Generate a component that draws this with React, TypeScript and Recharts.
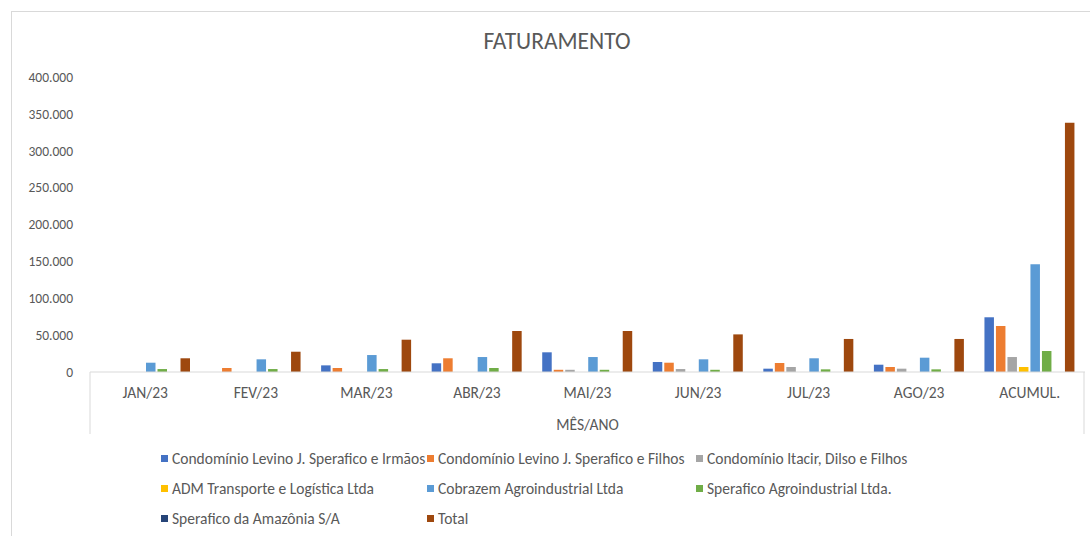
import { Bar, BarChart, Legend, XAxis, YAxis } from "recharts";

const categories = ["JAN/23", "FEV/23", "MAR/23", "ABR/23", "MAI/23", "JUN/23", "JUL/23", "AGO/23", "ACUMUL."];

const irmaos = [0, 0, 9000, 11800, 26700, 13600, 4500, 9900, 74200];
const filhos = [0, 5400, 5400, 18600, 3000, 12600, 12200, 6800, 62400];
const itacir = [0, 0, 0, 0, 3000, 4000, 6800, 4500, 20300];
const adm = [0, 0, 0, 0, 0, 0, 0, 0, 6800];
const cobrazem = [12600, 17200, 23000, 20300, 20300, 17200, 18600, 19400, 146000];
const agro = [4000, 4000, 4000, 5400, 3000, 3000, 3600, 3600, 28500];
const amazonia = [0, 0, 0, 0, 0, 0, 0, 0, 0];
const total = [18600, 27500, 43800, 55600, 55600, 51000, 44800, 44800, 338000];

const yTicks = [0, 50000, 100000, 150000, 200000, 250000, 300000, 350000, 400000];

const series = [
  { key: "irmaos", name: "Condomínio Levino J. Sperafico e Irmãos", color: "#4472C4", values: irmaos },
  { key: "filhos", name: "Condomínio Levino J. Sperafico e Filhos", color: "#ED7D31", values: filhos },
  { key: "itacir", name: "Condomínio Itacir, Dilso e Filhos", color: "#A5A5A5", values: itacir },
  { key: "adm", name: "ADM Transporte e Logística Ltda", color: "#FFC000", values: adm },
  { key: "cobrazem", name: "Cobrazem Agroindustrial Ltda", color: "#5B9BD5", values: cobrazem },
  { key: "agro", name: "Sperafico Agroindustrial Ltda.", color: "#70AD47", values: agro },
  { key: "amazonia", name: "Sperafico da Amazônia S/A", color: "#264478", values: amazonia },
  { key: "total", name: "Total", color: "#9E480E", values: total },
];

const data = categories.map((name, i) => {
  const row: Record<string, string | number> = { name };
  series.forEach((s) => (row[s.key] = s.values[i]));
  return row;
});

const FONT = "Calibri, Carlito, Lato, sans-serif";
const TEXT = "#595959";
const AXIS = "#D9D9D9";
const PLOT_LEFT = 90;
const PLOT_RIGHT = 1085;
const BAND = (PLOT_RIGHT - PLOT_LEFT) / categories.length;

const fmt = (v: number) => (v === 0 ? "0" : v.toLocaleString("pt-BR"));

function CategoryTick(props: any) {
  const { x, y, payload, index } = props;
  return (
    <g>
      {index === 0 && <line x1={x - BAND / 2} x2={x - BAND / 2} y1={y - 8} y2={y + 54} stroke={AXIS} />}
      {index === categories.length - 1 && (
        <line x1={x + BAND / 2 - 1} x2={x + BAND / 2 - 1} y1={y - 8} y2={y + 54} stroke={AXIS} />
      )}
      <text x={x} y={y + 18} textAnchor="middle" fill={TEXT} fontSize={15.5} fontFamily={FONT}>
        {payload.value}
      </text>
    </g>
  );
}

function LegendGrid() {
  const cols = [266, 269, 260];
  return (
    <div style={{ display: "grid", gridTemplateColumns: cols.map((c) => c + "px").join(" "), rowGap: 12 }}>
      {series.map((s) => (
        <div key={s.key} style={{ display: "flex", alignItems: "center", height: 18, whiteSpace: "nowrap" }}>
          <span style={{ width: 7, height: 7, background: s.color, marginRight: 4, display: "inline-block" }} />
          <span style={{ fontSize: 15.5, color: TEXT, fontFamily: FONT }}>{s.name}</span>
        </div>
      ))}
    </div>
  );
}

export default function App() {
  return (
    <div style={{ position: "fixed", left: 0, top: 0, width: 1090, height: 536, background: "#fff", overflow: "hidden" }}>
      <div
        style={{
          position: "absolute",
          left: 11,
          top: 11,
          width: 1200,
          height: 700,
          borderTop: `1px solid ${AXIS}`,
          borderLeft: `1px solid ${AXIS}`,
        }}
      />
      <div
        style={{
          position: "absolute",
          left: 0,
          width: 1114,
          top: 27,
          textAlign: "center",
          fontSize: 23.5,
          color: TEXT,
          fontFamily: FONT,
        }}
      >
        FATURAMENTO
      </div>
      <div style={{ position: "absolute", left: 0, top: 0 }}>
        <BarChart
          width={1090}
          height={536}
          data={data}
          margin={{ top: 77, right: 1090 - PLOT_RIGHT, left: 0, bottom: 102 }}
          barCategoryGap="8%"
          barGap={2}
          barSize={9.5}
        >
          <XAxis
            dataKey="name"
            height={62}
            axisLine={{ stroke: AXIS }}
            tickLine={false}
            tick={<CategoryTick />}
            interval={0}
            label={{ value: "MÊS/ANO", position: "insideBottom", offset: 4, fill: TEXT, fontSize: 15.5, fontFamily: FONT }}
          />
          <YAxis
            width={PLOT_LEFT}
            domain={[0, 400000]}
            ticks={yTicks}
            axisLine={false}
            tickLine={false}
            tickMargin={11}
            tickFormatter={fmt}
            tick={{ fill: TEXT, fontSize: 13.5, fontFamily: FONT }}
          />
          <Legend
            layout="vertical"
            verticalAlign="middle"
            align="center"
            content={<LegendGrid />}
            wrapperStyle={{ position: "absolute", left: 161, top: 449, width: 820 }}
          />
          {series.map((s) => (
            <Bar key={s.key} dataKey={s.key} name={s.name} fill={s.color} isAnimationActive={false} />
          ))}
        </BarChart>
      </div>
    </div>
  );
}
